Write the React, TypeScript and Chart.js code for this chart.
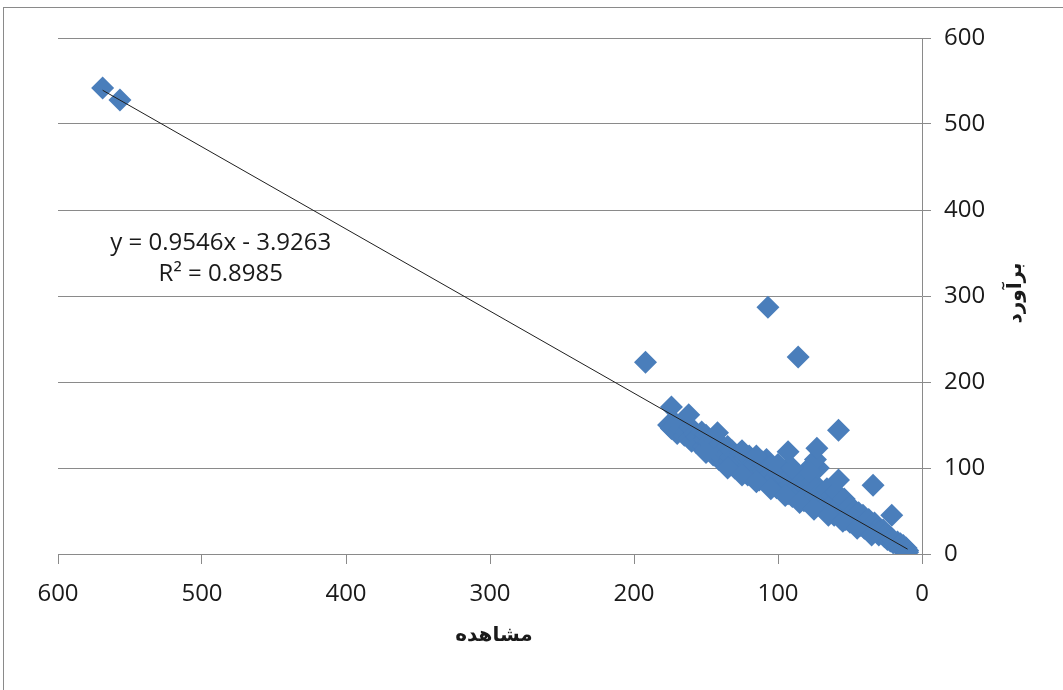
import React, { useEffect, useRef } from "react";
import { Chart, registerables } from "chart.js";

Chart.register(...registerables);

// Observed (مشاهده) values
const obsX: number[] = [
  176, 174, 171, 170, 168, 167, 165, 164, 162, 161, 160,
  158, 157, 156, 155, 153, 152, 151, 150, 150,
  148, 147, 146, 145, 144, 143, 142, 141, 140, 140,
  138, 137, 136, 135, 134, 133, 132, 131, 130, 130,
  128, 127, 126, 125, 124, 123, 122, 121, 120, 120,
  118, 117, 116, 115, 114, 113, 112, 111, 110, 110,
  108, 107, 106, 105, 104, 103, 102, 101, 100, 100,
  98, 97, 96, 95, 94, 93, 92, 91, 90, 90,
  88, 87, 86, 85, 84, 83, 82, 81, 80, 80,
  78, 77, 76, 75, 74, 73, 72, 71, 70, 70,
  76, 74, 78,
  68, 67, 66, 65, 64, 63, 62, 61, 60, 60, 58,
  58, 57, 56, 55, 54, 53, 52, 51, 50, 50,
  48, 47, 46, 45, 44, 43, 42, 41, 40, 40,
  38, 37, 36, 35, 34, 33, 32, 31, 30, 30,
  28, 27, 26, 25, 24, 23, 22, 21, 20, 20,
  18, 17, 16, 15, 14, 13, 12, 11, 10, 10,
  150, 135, 125, 115, 105, 95, 85, 75, 65, 55, 45, 35,
  125, 115, 100, 90,
  569, 557, 192, 107, 86, 174, 162, 58, 73, 93, 34, 21, 142,
];

// Estimated (برآورد) values
const estY: number[] = [
  150, 146, 152, 140, 145, 150, 138, 142, 135, 148, 131,
  140, 130, 136, 128, 142, 125, 133, 122, 138,
  130, 120, 126, 115, 133, 118, 124, 110, 128, 113,
  120, 106, 116, 125, 108, 112, 120, 104, 115, 100,
  110, 98, 118, 104, 95, 112, 100, 92, 107, 114,
  97, 90, 104, 110, 93, 86, 100, 107, 88, 96,
  110, 84, 92, 102, 80, 96, 88, 77, 93, 100,
  83, 74, 90, 97, 78, 70, 86, 80, 94, 67,
  76, 88, 65, 82, 72, 92, 62, 78, 86, 68,
  60, 74, 84, 66, 58, 78, 100, 63, 72, 55,
  104, 110, 96,
  66, 52, 76, 60, 48, 68, 56, 45, 62, 72, 86,
  50, 42, 58, 47, 64, 40, 52, 44, 56, 37,
  46, 50, 36, 42, 48, 33, 40, 45, 30, 37,
  34, 40, 28, 33, 25, 36, 27, 30, 22, 26,
  24, 28, 20, 23, 17, 21, 15, 18, 13, 16,
  12, 14, 10, 12, 8, 10, 5, 7, 2, 4,
  118, 100, 92, 84, 76, 68, 60, 52, 45, 38, 30, 22,
  120, 114, 104, 100,
  542, 528, 223, 287, 229, 171, 162, 144, 123, 119, 80, 45, 141,
];

// Linear trendline (from the chart's equation)
const trendSlope = 0.9546;
const trendIntercept = -3.9263;
const trendRange: number[] = [569, 10];

const xTicks: number[] = [0, 100, 200, 300, 400, 500, 600];
const yTicks: number[] = [0, 100, 200, 300, 400, 500, 600];

const xTitle = "مشاهده";
const yTitle = "برآورد";
const eqLine1 = "y = 0.9546x - 3.9263";
const eqLine2 = "R² = 0.8985";

const W = 1063;
const H = 690;
const PLOT_LEFT = 58;
const PLOT_TOP = 38;
const PLOT_RIGHT = 922;
const PLOT_BOTTOM = 554;

const GRID = "#8a8a8a";
const TEXT = "#1a1a1a";
const MARK = "#4A7EBB";
const NUM_FONT = "'Open Sans', 'DejaVu Sans', sans-serif";
const AR_FONT = "'DejaVu Sans', 'Noto Sans', sans-serif";

const decorPlugin = {
  id: "decor",
  beforeDraw(chart: any) {
    const ctx = chart.ctx;
    ctx.save();
    ctx.fillStyle = "#ffffff";
    ctx.fillRect(0, 0, chart.width, chart.height);
    ctx.strokeStyle = "#8a8a8a";
    ctx.lineWidth = 1;
    ctx.strokeRect(3.5, 7.5, 3000, 3000);
    ctx.restore();
  },
  afterDraw(chart: any) {
    const ctx = chart.ctx;
    const xs = chart.scales.x;
    const ys = chart.scales.y;
    ctx.save();
    ctx.fillStyle = TEXT;
    // equation
    ctx.font = `24px ${NUM_FONT}`;
    ctx.textAlign = "center";
    ctx.textBaseline = "middle";
    const ex = xs.getPixelForValue(487);
    const ey = ys.getPixelForValue(362);
    ctx.fillText(eqLine1, ex, ey);
    ctx.fillText(eqLine2, ex, ey + 31);
    // x title
    ctx.font = `bold 20px ${AR_FONT}`;
    ctx.direction = "rtl";
    ctx.fillText(xTitle, 494, 636);
    // y title rotated
    ctx.translate(1016, 293);
    ctx.rotate(-Math.PI / 2);
    ctx.fillText(yTitle, 0, 0);
    ctx.restore();
  },
};

export default function App() {
  const ref = useRef<HTMLCanvasElement | null>(null);

  useEffect(() => {
    if (!ref.current) return;
    const points = obsX.map((x, i) => ({ x, y: estY[i] }));
    const trend = trendRange.map((x) => ({ x, y: trendSlope * x + trendIntercept }));
    const chart = new Chart(ref.current, {
      type: "scatter",
      data: {
        datasets: [
          {
            type: "line",
            data: trend,
            borderColor: "#1f1f1f",
            borderWidth: 1,
            pointRadius: 0,
            fill: false,
            order: 0,
          } as any,
          {
            data: points,
            backgroundColor: MARK,
            borderColor: MARK,
            borderWidth: 0,
            pointStyle: "rectRot",
            pointRadius: 11.5,
            order: 1,
          },
        ],
      },
      options: {
        responsive: false,
        animation: false,
        layout: { padding: { left: PLOT_LEFT, top: PLOT_TOP, right: 0, bottom: 0 } },
        plugins: {
          legend: { display: false },
          tooltip: { enabled: false },
          title: { display: false },
        },
        scales: {
          x: {
            type: "linear",
            position: "bottom",
            reverse: true,
            min: 0,
            max: 600,
            afterFit: (s: any) => {
              s.height = H - PLOT_BOTTOM;
            },
            afterBuildTicks: (s: any) => {
              s.ticks = xTicks.map((v) => ({ value: v }));
            },
            ticks: {
              color: TEXT,
              font: { family: NUM_FONT, size: 24 },
              padding: 16,
              maxRotation: 0,
            },
            grid: {
              drawOnChartArea: false,
              drawTicks: true,
              tickLength: 10,
              color: GRID,
              lineWidth: 1,
            },
            border: { display: true, color: GRID, width: 1 },
          },
          y: {
            type: "linear",
            position: "right",
            min: 0,
            max: 600,
            afterFit: (s: any) => {
              s.width = W - PLOT_RIGHT;
            },
            afterBuildTicks: (s: any) => {
              s.ticks = yTicks.map((v) => ({ value: v }));
            },
            ticks: {
              color: TEXT,
              font: { family: NUM_FONT, size: 24 },
              padding: 13,
            },
            grid: {
              drawOnChartArea: true,
              drawTicks: true,
              tickLength: 9,
              color: GRID,
              lineWidth: 1,
            },
            border: { display: true, color: GRID, width: 1 },
          },
        },
      },
      plugins: [decorPlugin],
    });
    return () => chart.destroy();
  }, []);

  return (
    <div style={{ position: "absolute", left: 0, top: 0, width: W, height: H }}>
      <canvas ref={ref} width={W} height={H} style={{ display: "block", width: W, height: H }} />
    </div>
  );
}
